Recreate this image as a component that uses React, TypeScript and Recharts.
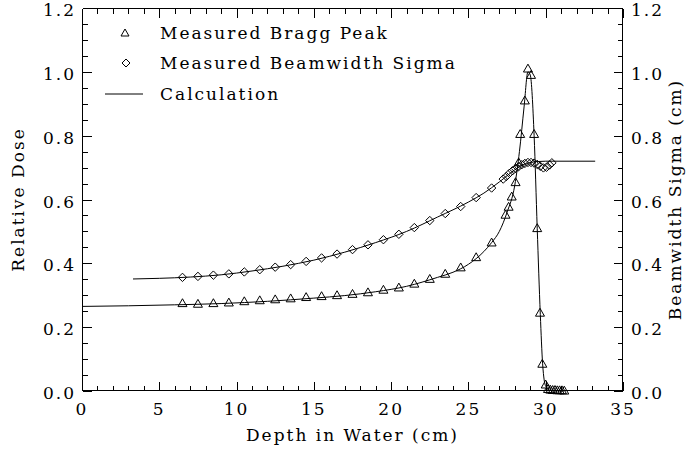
import React from 'react';
import { ComposedChart, XAxis, YAxis, Scatter, Line, Legend } from 'recharts';

// ---------- data ----------
const braggX = [6.5, 7.5, 8.5, 9.5, 10.5, 11.5, 12.5, 13.5, 14.5, 15.5, 16.5, 17.5, 18.5, 19.5, 20.5, 21.5, 22.5, 23.5, 24.5, 25.5, 26.5,
  27.4, 27.6, 27.8, 28.05, 28.25, 28.35, 28.65, 28.85, 29.05, 29.25, 29.45, 29.63, 29.78, 30.0, 30.15, 30.3, 30.45, 30.6, 30.75, 30.9, 31.05, 31.2];
const braggY = [0.275, 0.273, 0.275, 0.277, 0.281, 0.284, 0.287, 0.29, 0.294, 0.297, 0.3, 0.304, 0.309, 0.317, 0.324, 0.336, 0.351, 0.367, 0.387, 0.419, 0.465,
  0.552, 0.577, 0.609, 0.654, 0.716, 0.805, 0.91, 1.01, 0.99, 0.805, 0.51, 0.245, 0.085, 0.02, 0.006, 0.004, 0.003, 0.003, 0.002, 0.002, 0.002, 0.001];

const sigmaX = [6.5, 7.5, 8.5, 9.5, 10.5, 11.5, 12.5, 13.5, 14.5, 15.5, 16.5, 17.5, 18.5, 19.5, 20.5, 21.5, 22.5, 23.5, 24.5, 25.5, 26.5,
  27.25, 27.45, 27.65, 27.85, 28.05, 28.25, 28.45, 28.65, 28.85, 29.05, 29.25, 29.45, 29.65, 29.85, 30.05, 30.25, 30.4];
const sigmaY = [0.356, 0.359, 0.363, 0.367, 0.373, 0.38, 0.388, 0.396, 0.406, 0.417, 0.429, 0.443, 0.458, 0.474, 0.491, 0.512, 0.534, 0.556, 0.578, 0.606, 0.636,
  0.664, 0.672, 0.682, 0.69, 0.697, 0.703, 0.709, 0.713, 0.716, 0.716, 0.714, 0.71, 0.704, 0.699, 0.701, 0.708, 0.715];

const calcDoseX = [0, 3, 6, 9, 12, 15, 17, 19, 21, 23, 24, 25, 26, 26.5, 27, 27.5, 28, 28.3, 28.6, 28.85, 29.0, 29.25, 29.45, 29.65, 29.8, 30.0, 30.3, 31.2];
const calcDoseY = [0.265, 0.267, 0.27, 0.274, 0.281, 0.291, 0.299, 0.311, 0.328, 0.356, 0.372, 0.397, 0.437, 0.465, 0.5, 0.56, 0.645, 0.75, 0.89, 1.0, 0.99, 0.8, 0.51, 0.24, 0.085, 0.015, 0.002, 0];

const calcSigmaX = [3.3, 5, 7, 9, 11, 13, 15, 17, 19, 21, 23, 25, 26, 27, 28, 28.5, 29, 29.5, 30, 33.2];
const calcSigmaY = [0.351, 0.353, 0.357, 0.364, 0.376, 0.391, 0.41, 0.435, 0.465, 0.5, 0.545, 0.592, 0.62, 0.655, 0.693, 0.708, 0.716, 0.719, 0.72, 0.72];

const xTicks = [0, 1, 2, 3, 4, 5, 6, 7, 8, 9, 10, 11, 12, 13, 14, 15, 16, 17, 18, 19, 20, 21, 22, 23, 24, 25, 26, 27, 28, 29, 30, 31, 32, 33, 34, 35];
const xMajor = [0, 5, 10, 15, 20, 25, 30, 35];
const yTicks = [0, 0.05, 0.1, 0.15, 0.2, 0.25, 0.3, 0.35, 0.4, 0.45, 0.5, 0.55, 0.6, 0.65, 0.7, 0.75, 0.8, 0.85, 0.9, 0.95, 1.0, 1.05, 1.1, 1.15, 1.2];
const yMajor = [0, 0.2, 0.4, 0.6, 0.8, 1.0, 1.2];
const yMajorLabels = ['0.0', '0.2', '0.4', '0.6', '0.8', '1.0', '1.2'];

const legendItems = ['Measured Bragg Peak', 'Measured Beamwidth Sigma', 'Calculation'];
const xTitle = 'Depth in Water (cm)';
const yTitle = 'Relative Dose';
const y2Title = 'Beamwidth Sigma (cm)';

// ---------- layout / styles ----------
const W = 689;
const H = 450;
const M_TOP = 8;
const X_AXIS_H = 59;
const Y_LEFT_W = 82;
const Y_RIGHT_W = 66;
const X_MIN = 0;
const X_MAX = 35;
const Y_MIN = 0;
const Y_MAX = 1.2;
const PL = Y_LEFT_W;
const PR = W - Y_RIGHT_W;
const PT = M_TOP;
const PB = H - X_AXIS_H;
const px = (v: number) => PL + ((v - X_MIN) / (X_MAX - X_MIN)) * (PR - PL);
const py = (v: number) => PB - ((v - Y_MIN) / (Y_MAX - Y_MIN)) * (PB - PT);
const crisp = (v: number) => Math.round(v) + 0.5;

const FONT = '"DejaVu Serif", serif';
const FS = 17;
const LS = 2;
const INK = '#000';
const MAJ = 9;
const MIN = 5;

const isYMajor = (v: number) => yMajor.some((m) => Math.abs(m - v) < 1e-6);
const yLabel = (v: number) => {
  const i = yMajor.findIndex((m) => Math.abs(m - v) < 1e-6);
  return i >= 0 ? yMajorLabels[i] : '';
};

const zip = (xs: number[], ys: number[]) => xs.map((x, i) => ({ x, y: ys[i] }));
const braggData = zip(braggX, braggY);
const sigmaData = zip(sigmaX, sigmaY);
const calcDoseData = zip(calcDoseX, calcDoseY);
const calcSigmaData = zip(calcSigmaX, calcSigmaY);

const BottomTick = (props: any) => {
  const x = Number(props.x);
  const y = Number(props.y);
  const v = props.payload.value;
  if (!xMajor.includes(v)) return <g />;
  return (
    <text x={x} y={y + 24} textAnchor="middle" fontFamily={FONT} fontSize={FS} letterSpacing={LS} fill={INK} stroke="none">
      {String(v)}
    </text>
  );
};

const LeftTick = (props: any) => {
  const x = Number(props.x);
  const y = Number(props.y);
  const v = props.payload.value;
  if (!isYMajor(v)) return <g />;
  return (
    <text x={x - 6} y={y + 8} textAnchor="end" fontFamily={FONT} fontSize={FS} letterSpacing={LS} fill={INK} stroke="none">
      {yLabel(v)}
    </text>
  );
};

const RightTick = (props: any) => {
  const x = Number(props.x);
  const y = Number(props.y);
  const v = props.payload.value;
  if (!isYMajor(v)) return <g />;
  return (
    <text x={x + 8} y={y + 8} textAnchor="start" fontFamily={FONT} fontSize={FS} letterSpacing={LS} fill={INK} stroke="none">
      {yLabel(v)}
    </text>
  );
};

const Triangle = (props: any) => {
  const { cx, cy } = props;
  const s = 4.5;
  return (
    <path
      d={`M${cx},${cy - s} L${cx + s},${cy + s * 0.75} L${cx - s},${cy + s * 0.75} Z`}
      fill="none"
      stroke={INK}
      strokeWidth={1}
    />
  );
};

const Diamond = (props: any) => {
  const { cx, cy } = props;
  const s = 4.2;
  return (
    <path d={`M${cx},${cy - s} L${cx + s},${cy} L${cx},${cy + s} L${cx - s},${cy} Z`} fill="none" stroke={INK} strokeWidth={1} />
  );
};

// legend + plot frame with inward tick marks (frame ticks follow the axis tick lists)
const LegendContent = () => {
  const LX = 100;
  const LY = 19;
  const l = crisp(PL);
  const r = crisp(PR) - 1;
  const t = crisp(PT);
  const b = crisp(PB) - 1;
  return (
    <svg width={W} height={H} style={{ position: 'absolute', left: 0, top: 0, overflow: 'visible', pointerEvents: 'none' }}>
      <g stroke={INK} strokeWidth={1} fill="none" shapeRendering="crispEdges">
        <line x1={l} y1={t} x2={r} y2={t} />
        <line x1={l} y1={t} x2={l} y2={b} />
        <line x1={r} y1={t} x2={r} y2={b} />
        <line x1={l} y1={b} x2={r} y2={b} />
        {xTicks.map((v) => {
          const len = xMajor.includes(v) ? MAJ : MIN;
          const x = crisp(px(v));
          return (
            <g key={`x${v}`}>
              <line x1={x} y1={b} x2={x} y2={b - len} />
              <line x1={x} y1={t} x2={x} y2={t + len} />
            </g>
          );
        })}
        {yTicks.map((v) => {
          const len = isYMajor(v) ? MAJ : MIN;
          const y = crisp(py(v));
          return (
            <g key={`y${v}`}>
              <line x1={l} y1={y} x2={l + len} y2={y} />
              <line x1={r} y1={y} x2={r - len} y2={y} />
            </g>
          );
        })}
      </g>
      <g transform={`translate(${LX + 25},${LY + 14})`}>
        <path d="M0,-4 L4,3 L-4,3 Z" fill="none" stroke={INK} strokeWidth={1} />
      </g>
      <text x={LX + 60} y={LY + 20} fontFamily={FONT} fontSize={FS} letterSpacing={LS} fill={INK}>{legendItems[0]}</text>
      <g transform={`translate(${LX + 26},${LY + 44})`}>
        <path d="M0,-4 L4,0 L0,4 L-4,0 Z" fill="none" stroke={INK} strokeWidth={1} />
      </g>
      <text x={LX + 60} y={LY + 50} fontFamily={FONT} fontSize={FS} letterSpacing={LS} fill={INK}>{legendItems[1]}</text>
      <line x1={LX + 5} y1={LY + 75} x2={LX + 43} y2={LY + 75} stroke={INK} strokeWidth={1} />
      <text x={LX + 60} y={LY + 81} fontFamily={FONT} fontSize={FS} letterSpacing={LS} fill={INK}>{legendItems[2]}</text>
    </svg>
  );
};

const LeftTitle = (props: any) => {
  const { viewBox } = props;
  const cy = viewBox.y + viewBox.height / 2;
  const cx = 18;
  return (
    <text x={cx} y={cy} transform={`rotate(-90 ${cx} ${cy})`} textAnchor="middle" dominantBaseline="central" fontFamily={FONT} fontSize={FS} letterSpacing={LS} fill={INK}>
      {yTitle}
    </text>
  );
};

const RightTitle = (props: any) => {
  const { viewBox } = props;
  const cy = viewBox.y + viewBox.height / 2;
  const cx = viewBox.x + viewBox.width - 14;
  return (
    <text x={cx} y={cy} transform={`rotate(-90 ${cx} ${cy})`} textAnchor="middle" dominantBaseline="central" fontFamily={FONT} fontSize={FS} letterSpacing={LS} fill={INK}>
      {y2Title}
    </text>
  );
};

const BottomTitle = (props: any) => {
  const { viewBox } = props;
  const cx = viewBox.x + viewBox.width / 2;
  return (
    <text x={cx} y={viewBox.y + 50} textAnchor="middle" fontFamily={FONT} fontSize={FS} letterSpacing={LS} fill={INK}>
      {xTitle}
    </text>
  );
};

export default function App() {
  return (
    <div style={{ position: 'absolute', left: 0, top: 0, width: W, height: H, background: '#fff' }}>
      <ComposedChart width={W} height={H} margin={{ top: M_TOP, right: 0, bottom: 0, left: 0 }}>
        <XAxis
          xAxisId="b"
          dataKey="x"
          type="number"
          domain={[X_MIN, X_MAX]}
          ticks={xTicks}
          interval={0}
          height={X_AXIS_H}
          tickSize={0}
          tickMargin={0}
          tickLine={false}
          axisLine={false}
          tick={BottomTick}
          label={<BottomTitle />}
        />
        <YAxis
          yAxisId="l"
          type="number"
          domain={[Y_MIN, Y_MAX]}
          ticks={yTicks}
          interval={0}
          width={Y_LEFT_W}
          tickSize={0}
          tickMargin={0}
          tickLine={false}
          axisLine={false}
          tick={LeftTick}
          label={<LeftTitle />}
        />
        <YAxis
          yAxisId="r"
          orientation="right"
          type="number"
          domain={[Y_MIN, Y_MAX]}
          ticks={yTicks}
          interval={0}
          width={Y_RIGHT_W}
          tickSize={0}
          tickMargin={0}
          tickLine={false}
          axisLine={false}
          tick={RightTick}
          label={<RightTitle />}
        />
        <Legend
          layout="horizontal"
          verticalAlign="middle"
          align="center"
          content={<LegendContent />}
          wrapperStyle={{ position: 'absolute', left: 0, top: 0, width: W, height: H, pointerEvents: 'none' }}
        />
        <Line
          xAxisId="b"
          yAxisId="l"
          data={calcDoseData}
          dataKey="y"
          type="monotone"
          stroke={INK}
          strokeWidth={1}
          dot={false}
          activeDot={false}
          isAnimationActive={false}
          legendType="none"
        />
        <Line
          xAxisId="b"
          yAxisId="r"
          data={calcSigmaData}
          dataKey="y"
          type="monotone"
          stroke={INK}
          strokeWidth={1}
          dot={false}
          activeDot={false}
          isAnimationActive={false}
          legendType="none"
        />
        <Scatter xAxisId="b" yAxisId="l" data={braggData} dataKey="y" shape={Triangle} isAnimationActive={false} legendType="none" />
        <Scatter xAxisId="b" yAxisId="r" data={sigmaData} dataKey="y" shape={Diamond} isAnimationActive={false} legendType="none" />
      </ComposedChart>
    </div>
  );
}
